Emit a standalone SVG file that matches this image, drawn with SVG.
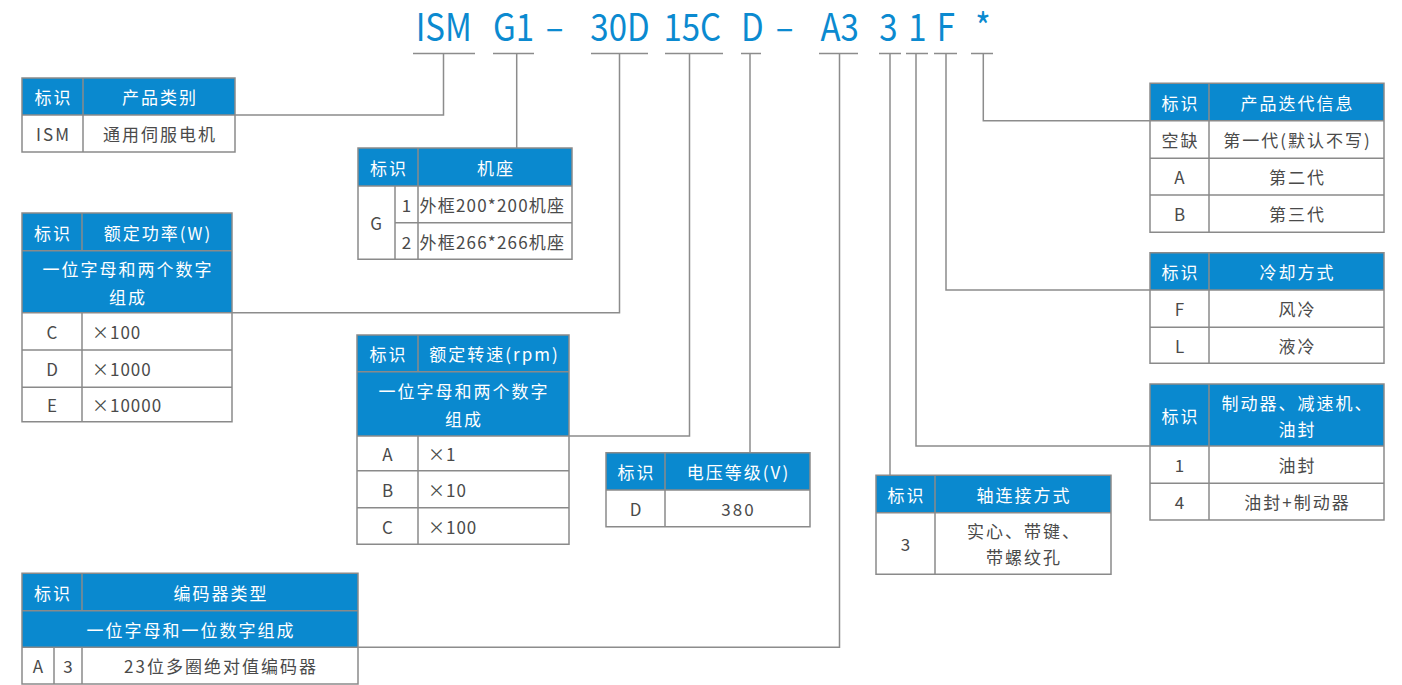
<svg xmlns="http://www.w3.org/2000/svg" width="1402" height="685" viewBox="0 0 1402 685">
<style>
.hd{fill:#0a89cf}
.bd{fill:#ffffff}
.grid{stroke:#8a8a8a;stroke-width:1.5;fill:none}
.conn{stroke:#8c8c8c;stroke-width:1.5;fill:none}
.th,.td{font-family:"Noto Sans CJK SC","Noto Sans",sans-serif;font-size:17px;text-anchor:middle;dominant-baseline:central;letter-spacing:2px}
.th{fill:#ffffff}
.td{fill:#4a4a4a}
.tl{text-anchor:start}
.code{font-family:"Noto Sans CJK SC","Noto Sans",sans-serif;font-size:37.5px;fill:#0b8ad0;text-anchor:middle}
</style>
<rect width="1402" height="685" fill="#ffffff"/>

<g id="code">
<text class="code" transform="translate(443.7,41) scale(0.88,1)">ISM</text>
<text class="code" transform="translate(513.5,41) scale(0.88,1)">G1</text>
<text class="code" transform="translate(554.7,41) scale(0.88,1)">–</text>
<text class="code" transform="translate(620,41) scale(0.88,1)">30D</text>
<text class="code" transform="translate(692.3,41) scale(0.88,1)">15C</text>
<text class="code" transform="translate(752.3,41) scale(0.88,1)">D</text>
<text class="code" transform="translate(784.7,41) scale(0.88,1)">–</text>
<text class="code" transform="translate(839.7,41) scale(0.88,1)">A3</text>
<text class="code" transform="translate(888.3,41) scale(0.88,1)">3</text>
<text class="code" transform="translate(917.3,41) scale(0.88,1)">1</text>
<text class="code" transform="translate(945.8,41) scale(0.88,1)">F</text>
<text class="code" transform="translate(983,41) scale(0.88,1)">*</text>
</g>

<g id="connectors" class="conn">
<path d="M413,53.5H475M493,53.5H534M591,53.5H648M665,53.5H723M741,53.5H761M819,53.5H858M879,53.5H901M906,53.5H928M934,53.5H957M971,53.5H993"/>
<path d="M443.5,53.5V115H235"/>
<path d="M516.7,53.5V148"/>
<path d="M619.5,53.5V312.7H232"/>
<path d="M689.5,53.5V436H569"/>
<path d="M750,53.5V452.7"/>
<path d="M839.5,53.5V647.3H358"/>
<path d="M890,53.5V475.3"/>
<path d="M916,53.5V446H1150"/>
<path d="M946,53.5V290H1150"/>
<path d="M983.3,53.5V120.7H1150"/>
</g>

<g id="t-product">
<rect class="hd" x="22" y="78" width="213" height="37"/>
<rect class="bd" x="22" y="115" width="213" height="37"/>
<path class="grid" d="M22,78H235V152H22ZM22,115H235M83,78V152"/>
<text class="th" x="53.5" y="96.5">标识</text>
<text class="th" x="160" y="96.5">产品类别</text>
<text class="td" x="53.5" y="133.5">ISM</text>
<text class="td" x="160" y="133.5">通用伺服电机</text>
</g>

<g id="t-frame">
<rect class="hd" x="358" y="148" width="214" height="38"/>
<rect class="bd" x="358" y="186" width="214" height="73.3"/>
<path class="grid" d="M358,148H572V259.3H358ZM358,186H572M395,222.7H572M395,186V259.3M418,148V259.3"/>
<text class="th" x="389" y="167">标识</text>
<text class="th" x="496" y="167">机座</text>
<text class="td" x="377" y="222.7">G</text>
<text class="td" x="407.5" y="204.3">1</text>
<text class="td" x="407.5" y="241">2</text>
<text class="td tl" x="419.5" y="204.3" style="letter-spacing:1.2px">外框200*200机座</text>
<text class="td tl" x="419.5" y="241" style="letter-spacing:1.2px">外框266*266机座</text>
</g>

<g id="t-power">
<rect class="hd" x="22" y="213" width="210" height="99.7"/>
<rect class="bd" x="22" y="312.7" width="210" height="109"/>
<path class="grid" d="M22,213H232V421.7H22ZM22,250.7H232M22,312.7H232M22,350H232M22,387.3H232M82,213V250.7M82,312.7V421.7"/>
<text class="th" x="53" y="232">标识</text>
<text class="th" x="158" y="232">额定功率(W)</text>
<text class="th" x="128" y="268">一位字母和两个数字</text>
<text class="th" x="128" y="296">组成</text>
<text class="td" x="53" y="331.3">C</text>
<text class="td tl" x="92" y="331.3" style="letter-spacing:1px">×100</text>
<text class="td" x="53" y="368.7">D</text>
<text class="td tl" x="92" y="368.7" style="letter-spacing:1px">×1000</text>
<text class="td" x="53" y="404.5">E</text>
<text class="td tl" x="92" y="404.5" style="letter-spacing:1px">×10000</text>
</g>

<g id="t-speed">
<rect class="hd" x="357" y="335" width="212" height="101"/>
<rect class="bd" x="357" y="436" width="212" height="108.3"/>
<path class="grid" d="M357,335H569V544.3H357ZM357,371.7H569M357,436H569M357,470.7H569M357,507.7H569M418,335V371.7M418,436V544.3"/>
<text class="th" x="388.5" y="353.3">标识</text>
<text class="th" x="494.5" y="353.3">额定转速(rpm)</text>
<text class="th" x="464" y="390">一位字母和两个数字</text>
<text class="th" x="464" y="418">组成</text>
<text class="td" x="388.5" y="453.3">A</text>
<text class="td tl" x="428" y="453.3" style="letter-spacing:1px">×1</text>
<text class="td" x="388.5" y="489.2">B</text>
<text class="td tl" x="428" y="489.2" style="letter-spacing:1px">×10</text>
<text class="td" x="388.5" y="526">C</text>
<text class="td tl" x="428" y="526" style="letter-spacing:1px">×100</text>
</g>

<g id="t-voltage">
<rect class="hd" x="606" y="452.7" width="204" height="37.3"/>
<rect class="bd" x="606" y="490" width="204" height="36.7"/>
<path class="grid" d="M606,452.7H810V526.7H606ZM606,490H810M665,452.7V526.7"/>
<text class="th" x="636.5" y="471.3">标识</text>
<text class="th" x="738.5" y="471.3">电压等级(V)</text>
<text class="td" x="636.5" y="508.3">D</text>
<text class="td" x="738.5" y="508.3">380</text>
</g>

<g id="t-encoder">
<rect class="hd" x="22" y="573.3" width="336" height="74"/>
<rect class="bd" x="22" y="647.3" width="336" height="36.7"/>
<path class="grid" d="M22,573.3H358V684H22ZM22,610.7H358M22,647.3H358M82,573.3V610.7M82,647.3V684M54,647.3V684"/>
<text class="th" x="53" y="592">标识</text>
<text class="th" x="221" y="592">编码器类型</text>
<text class="th" x="191" y="629">一位字母和一位数字组成</text>
<text class="td" x="39" y="665.7">A</text>
<text class="td" x="69" y="665.7">3</text>
<text class="td" x="221" y="665.7">23位多圈绝对值编码器</text>
</g>

<g id="t-iteration">
<rect class="hd" x="1150" y="83.3" width="234" height="37.4"/>
<rect class="bd" x="1150" y="120.7" width="234" height="111.6"/>
<path class="grid" d="M1150,83.3H1384V232.3H1150ZM1150,120.7H1384M1150,158.3H1384M1150,195H1384M1209,83.3V232.3"/>
<text class="th" x="1180.5" y="102">标识</text>
<text class="th" x="1297.5" y="102">产品迭代信息</text>
<text class="td" x="1180.5" y="139.5">空缺</text>
<text class="td" x="1297.5" y="139.5">第一代(默认不写)</text>
<text class="td" x="1180.5" y="176.7">A</text>
<text class="td" x="1297.5" y="176.7">第二代</text>
<text class="td" x="1180.5" y="213.7">B</text>
<text class="td" x="1297.5" y="213.7">第三代</text>
</g>

<g id="t-cooling">
<rect class="hd" x="1150" y="252.7" width="234" height="37.3"/>
<rect class="bd" x="1150" y="290" width="234" height="73.3"/>
<path class="grid" d="M1150,252.7H1384V363.3H1150ZM1150,290H1384M1150,327.3H1384M1209,252.7V363.3"/>
<text class="th" x="1180.5" y="271.3">标识</text>
<text class="th" x="1297.5" y="271.3">冷却方式</text>
<text class="td" x="1180.5" y="308.7">F</text>
<text class="td" x="1297.5" y="308.7">风冷</text>
<text class="td" x="1180.5" y="345.3">L</text>
<text class="td" x="1297.5" y="345.3">液冷</text>
</g>

<g id="t-brake">
<rect class="hd" x="1150" y="384" width="234" height="62"/>
<rect class="bd" x="1150" y="446" width="234" height="74"/>
<path class="grid" d="M1150,384H1384V520H1150ZM1150,446H1384M1150,483.3H1384M1209,384V520"/>
<text class="th" x="1180.5" y="415">标识</text>
<text class="th" x="1297.5" y="402.7">制动器、减速机、</text>
<text class="th" x="1297.5" y="428">油封</text>
<text class="td" x="1180.5" y="464.7">1</text>
<text class="td" x="1297.5" y="464.7">油封</text>
<text class="td" x="1180.5" y="501.7">4</text>
<text class="td" x="1297.5" y="501.7">油封+制动器</text>
</g>

<g id="t-shaft">
<rect class="hd" x="876" y="475.3" width="235" height="37.4"/>
<rect class="bd" x="876" y="512.7" width="235" height="61.6"/>
<path class="grid" d="M876,475.3H1111V574.3H876ZM876,512.7H1111M935,475.3V574.3"/>
<text class="th" x="906.5" y="494">标识</text>
<text class="th" x="1024" y="494">轴连接方式</text>
<text class="td" x="906.5" y="543.5">3</text>
<text class="td" x="1024" y="530">实心、带键、</text>
<text class="td" x="1024" y="556.7">带螺纹孔</text>
</g>
</svg>
